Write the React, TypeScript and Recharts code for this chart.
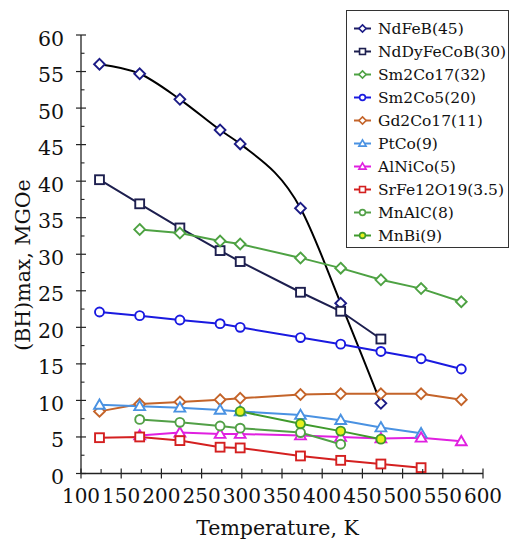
import React from 'react';
import { LineChart, Line, XAxis, YAxis, Legend, Label } from 'recharts';

const temps = [123, 173, 223, 273, 298, 373, 423, 473, 523, 573];

const ndfeb = [56.0, 54.7, 51.2, 47.0, 45.1, 36.3, 23.3, 9.6, null, null];
const ndDyFeCoB = [40.2, 36.9, 33.6, 30.5, 29.0, 24.8, 22.2, 18.4, null, null];
const sm2co17 = [null, 33.4, 32.9, 31.8, 31.4, 29.5, 28.1, 26.5, 25.3, 23.5];
const sm2co5 = [22.1, 21.6, 21.0, 20.5, 20.0, 18.6, 17.7, 16.7, 15.7, 14.3];
const gd2co17 = [8.5, 9.5, 9.8, 10.1, 10.3, 10.8, 10.9, 10.9, 10.9, 10.1];
const ptco = [9.4, 9.2, 9.0, 8.7, 8.5, 8.0, 7.3, 6.3, 5.5, null];
const alnico = [null, 5.2, 5.6, 5.4, 5.4, 5.2, 5.0, 4.8, 4.9, 4.4];
const srfe = [4.9, 5.0, 4.5, 3.6, 3.5, 2.4, 1.8, 1.3, 0.8, null];
const mnalc = [null, 7.4, 7.0, 6.5, 6.2, 5.6, 4.0, null, null, null];
const mnbi = [null, null, null, null, 8.5, 6.8, 5.8, 4.7, null, null];

const xTicks = [100, 125, 150, 175, 200, 225, 250, 275, 300, 325, 350, 375, 400, 425, 450, 475, 500, 525, 550, 575, 600];
const yTicks = [0, 2.5, 5, 7.5, 10, 12.5, 15, 17.5, 20, 22.5, 25, 27.5, 30, 32.5, 35, 37.5, 40, 42.5, 45, 47.5, 50, 52.5, 55, 57.5, 60];

type Shape = 'diamond' | 'square' | 'circle' | 'triangle';
interface Series {
  name: string;
  values: (number | null)[];
  color: string;
  lineColor: string;
  shape: Shape;
  fill: string;
  curve: 'linear' | 'monotone';
}

const seriesList: Series[] = [
  { name: 'NdFeB(45)', values: ndfeb, color: '#1c1c86', lineColor: '#000000', shape: 'diamond', fill: '#ffffff', curve: 'monotone' },
  { name: 'NdDyFeCoB(30)', values: ndDyFeCoB, color: '#1d1f4f', lineColor: '#1d1f4f', shape: 'square', fill: '#ffffff', curve: 'linear' },
  { name: 'Sm2Co17(32)', values: sm2co17, color: '#4ea243', lineColor: '#4ea243', shape: 'diamond', fill: '#ffffff', curve: 'linear' },
  { name: 'Sm2Co5(20)', values: sm2co5, color: '#1a1ae0', lineColor: '#1a1ae0', shape: 'circle', fill: '#ffffff', curve: 'linear' },
  { name: 'Gd2Co17(11)', values: gd2co17, color: '#c4642a', lineColor: '#c4642a', shape: 'diamond', fill: '#ffffff', curve: 'linear' },
  { name: 'PtCo(9)', values: ptco, color: '#4a92e2', lineColor: '#4a92e2', shape: 'triangle', fill: '#ffffff', curve: 'linear' },
  { name: 'AlNiCo(5)', values: alnico, color: '#e020e0', lineColor: '#e020e0', shape: 'triangle', fill: '#ffffff', curve: 'linear' },
  { name: 'SrFe12O19(3.5)', values: srfe, color: '#d42020', lineColor: '#d42020', shape: 'square', fill: '#ffffff', curve: 'linear' },
  { name: 'MnAlC(8)', values: mnalc, color: '#52a047', lineColor: '#52a047', shape: 'circle', fill: '#ffffff', curve: 'linear' },
  { name: 'MnBi(9)', values: mnbi, color: '#3f9a2c', lineColor: '#3f9a2c', shape: 'circle', fill: '#e6f01e', curve: 'linear' },
];

const toData = (vals: (number | null)[]) =>
  temps.map((t, i) => ({ t, v: vals[i] })).filter((d) => d.v !== null);

const FONT = "'DejaVu Serif'";

function Marker({ shape, cx, cy, stroke, fill, size, sw }: { shape: Shape; cx: number; cy: number; stroke: string; fill: string; size: number; sw: number }) {
  if (cx == null || cy == null) return null;
  const s = size;
  if (shape === 'diamond') {
    return <polygon points={`${cx},${cy - s} ${cx + s},${cy} ${cx},${cy + s} ${cx - s},${cy}`} stroke={stroke} fill={fill} strokeWidth={sw} />;
  }
  if (shape === 'square') {
    const h = s * 0.82;
    return <rect x={cx - h} y={cy - h} width={2 * h} height={2 * h} stroke={stroke} fill={fill} strokeWidth={sw} />;
  }
  if (shape === 'circle') {
    return <circle cx={cx} cy={cy} r={s * 0.8} stroke={stroke} fill={fill} strokeWidth={sw} />;
  }
  return <polygon points={`${cx},${cy - s} ${cx + s},${cy + s * 0.72} ${cx - s},${cy + s * 0.72}`} stroke={stroke} fill={fill} strokeWidth={sw} />;
}

const YTick = (props: any) => {
  const { x, y, payload } = props;
  const v = payload.value;
  const major = Math.abs(v % 5) < 1e-6;
  return (
    <g>
      {major ? (
        <line x1={x - 5} x2={x + 5} y1={y} y2={y} stroke="#222" strokeWidth={1.2} />
      ) : (
        <line x1={x} x2={x + 3.5} y1={y} y2={y} stroke="#222" strokeWidth={1.1} />
      )}
      {major && (
        <text x={x - 17} y={y + 10.5} textAnchor="end" fontFamily={FONT} fontSize={20.5} fill="#111">
          {v}
        </text>
      )}
    </g>
  );
};

const XTick = (props: any) => {
  const { x, y, payload } = props;
  const v = payload.value;
  const major = v % 50 === 0;
  return (
    <g>
      {major ? (
        <line x1={x} x2={x} y1={y - 5} y2={y + 5} stroke="#222" strokeWidth={1.2} />
      ) : (
        <line x1={x} x2={x} y1={y - 4.5} y2={y} stroke="#222" strokeWidth={1.1} />
      )}
      {major && (
        <text x={x} y={y + 29} textAnchor="middle" fontFamily={FONT} fontSize={20} fill="#111">
          {v}
        </text>
      )}
    </g>
  );
};

const LegendBox = () => (
  <div
    style={{
      border: '1.3px solid #333',
      background: '#fff',
      width: 163,
      height: 238,
      boxSizing: 'border-box',
      paddingTop: 6,
      fontFamily: FONT,
      fontSize: 15.5,
      color: '#111',
      textAlign: 'left',
    }}
  >
    {seriesList.map((s) => (
      <div key={s.name} style={{ display: 'flex', alignItems: 'center', height: 23, whiteSpace: 'nowrap' }}>
        <svg width={31} height={23} style={{ flex: 'none' }}>
          <line x1={7} x2={24} y1={11.5} y2={11.5} stroke={s.name.startsWith('NdFeB') ? '#1c1c60' : s.lineColor} strokeWidth={2} />
          <Marker shape={s.shape} cx={15.5} cy={11.5} stroke={s.color} fill={s.fill} size={3.6} sw={1.6} />
        </svg>
        <span>{s.name}</span>
      </div>
    ))}
  </div>
);

export default function App() {
  return (
    <div style={{ position: 'absolute', left: 0, top: 0, width: 511, height: 541, background: '#fff' }}>
      <LineChart width={511} height={541} margin={{ top: 35, right: 28, bottom: 27.5, left: 21 }}>
        <XAxis
          type="number"
          dataKey="t"
          domain={[100, 600]}
          ticks={xTicks}
          interval={0}
          height={40}
          tickSize={0}
          tickMargin={0}
          tickLine={false}
          tick={<XTick />}
          axisLine={{ stroke: '#222', strokeWidth: 1.3 }}
          allowDataOverflow
        >
          <Label
            content={() => (
              <text x={277.5} y={535} textAnchor="middle" fontFamily={FONT} fontSize={20.5} fill="#111">
                Temperature, K
              </text>
            )}
          />
        </XAxis>
        <YAxis
          type="number"
          domain={[0, 60]}
          ticks={yTicks}
          interval={0}
          width={60}
          tickSize={0}
          tickMargin={0}
          tickLine={false}
          tick={<YTick />}
          axisLine={{ stroke: '#222', strokeWidth: 1.3 }}
          allowDataOverflow
        >
          <Label
            content={() => (
              <text x={30} y={265} transform="rotate(-90, 30, 265)" textAnchor="middle" fontFamily={FONT} fontSize={20.5} fill="#111">
                (BH)max, MGOe
              </text>
            )}
          />
        </YAxis>
        {seriesList.map((s) => (
          <Line
            key={s.name}
            data={toData(s.values)}
            dataKey="v"
            name={s.name}
            type={s.curve}
            stroke={s.lineColor}
            strokeWidth={2}
            isAnimationActive={false}
            dot={(p: any) => (
              <Marker key={`${s.name}-${p.index}`} shape={s.shape} cx={p.cx} cy={p.cy} stroke={s.color} fill={s.fill} size={s.shape === 'circle' ? 5.6 : 5.4} sw={1.9} />
            )}
            activeDot={false}
          />
        ))}
        <Legend
          layout="horizontal"
          verticalAlign="middle"
          align="center"
          content={() => <LegendBox />}
          wrapperStyle={{ position: 'absolute', left: 346, top: 10, width: 163, height: 238, bottom: 'auto', right: 'auto' }}
        />
      </LineChart>
    </div>
  );
}
